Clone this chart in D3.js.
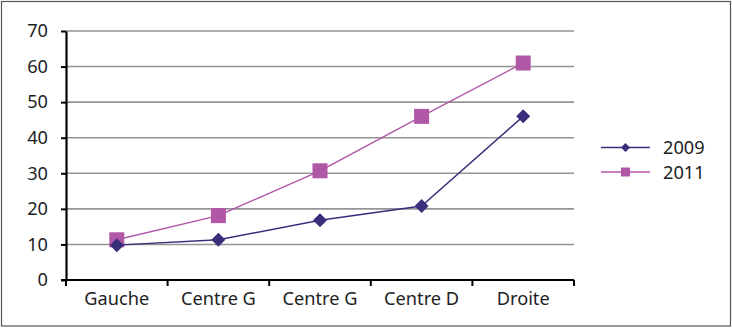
<!DOCTYPE html>
<html>
<head>
<meta charset="utf-8">
<script src="https://cdn.jsdelivr.net/npm/d3@7"></script>
<style>
  html, body { margin: 0; padding: 0; background: #fff; }
  svg { display: block; font-family: "Noto Sans", "Open Sans", sans-serif; }
</style>
</head>
<body>
<svg id="chart" width="732" height="328"></svg>
<script>
// Political position categories and the two survey years
const categories = ["Gauche", "Centre G", "Centre G", "Centre D", "Droite"];
const values2009 = [9.8, 11.3, 16.8, 20.8, 46.0];
const values2011 = [11.3, 18.1, 30.7, 46.0, 61.0];
const yTicks = [0, 10, 20, 30, 40, 50, 60, 70];
const seriesNames = ["2009", "2011"];

const svg = d3.select("#chart");
const W = 732, H = 328;
const m = { left: 66, right: 158, top: 31, bottom: 48 };
const FS = 18.2;

// outer frame
svg.append("rect")
  .attr("x", 1.5).attr("y", 1.5)
  .attr("width", W - 3).attr("height", H - 3.5)
  .attr("fill", "#fff").attr("stroke", "#555").attr("stroke-width", 1.2);

const x = d3.scaleBand()
  .domain(categories.map((c, i) => i))
  .range([m.left, W - m.right])
  .paddingInner(0).paddingOuter(0);

const y = d3.scaleLinear().domain([0, 70]).range([H - m.bottom, m.top]);

// horizontal gridlines
svg.append("g")
  .selectAll("line")
  .data(yTicks.filter(t => t > 0))
  .join("line")
  .attr("x1", m.left).attr("x2", W - m.right)
  .attr("y1", d => y(d)).attr("y2", d => y(d))
  .attr("stroke", "#959595").attr("stroke-width", 1.6);

// y axis
const yAxis = svg.append("g")
  .attr("transform", `translate(${m.left},0)`)
  .call(d3.axisLeft(y).tickValues(yTicks).tickSize(5).tickPadding(13).tickSizeOuter(0));
yAxis.select(".domain").attr("stroke", "#000").attr("stroke-width", 2.2);
yAxis.selectAll(".tick line").attr("stroke", "#000").attr("stroke-width", 2);
yAxis.selectAll(".tick text")
  .attr("font-size", FS).attr("fill", "#1e1e1e").attr("font-family", "Noto Sans, sans-serif");

// x axis with ticks at category boundaries
const xAxisG = svg.append("g").attr("transform", `translate(0,${y(0)})`);
xAxisG.append("line")
  .attr("x1", m.left - 5).attr("x2", W - m.right)
  .attr("stroke", "#000").attr("stroke-width", 2.2);
const bounds = d3.range(categories.length + 1).map(i =>
  i < categories.length ? x(i) : x(categories.length - 1) + x.bandwidth());
xAxisG.selectAll(".tk").data(bounds).join("line")
  .attr("class", "tk")
  .attr("x1", d => d).attr("x2", d => d)
  .attr("y1", 0).attr("y2", 6)
  .attr("stroke", "#000").attr("stroke-width", 2);
xAxisG.selectAll(".lbl").data(categories).join("text")
  .attr("class", "lbl")
  .attr("x", (d, i) => x(i) + x.bandwidth() / 2)
  .attr("y", 25)
  .attr("text-anchor", "middle")
  .attr("font-size", FS).attr("fill", "#1e1e1e")
  .text(d => d);

const cx = i => x(i) + x.bandwidth() / 2;
const line = d3.line().x((d, i) => cx(i)).y(d => y(d));

const series = [
  { name: seriesNames[0], values: values2009, color: "#3a2e7b", shape: "diamond" },
  { name: seriesNames[1], values: values2011, color: "#b057a6", shape: "square" }
];

function marker(g, shape, color) {
  if (shape === "diamond") {
    g.append("path").attr("d", "M0,-7L7,0L0,7L-7,0Z").attr("fill", color);
  } else {
    g.append("rect").attr("x", -7.5).attr("y", -7.5).attr("width", 15).attr("height", 15).attr("fill", color);
  }
}

// draw 2011 first so 2009 diamonds sit on top where they overlap
[series[1], series[0]].forEach(s => {
  svg.append("path")
    .datum(s.values)
    .attr("d", line)
    .attr("fill", "none")
    .attr("stroke", s.color).attr("stroke-width", 1.4);
  s.values.forEach((v, i) => {
    const g = svg.append("g").attr("transform", `translate(${cx(i)},${y(v)})`);
    marker(g, s.shape, s.color);
  });
});

// legend
const legend = svg.append("g");
series.forEach((s, i) => {
  const ly = 147.5 + i * 24.5;
  legend.append("line")
    .attr("x1", 601).attr("x2", 650).attr("y1", ly).attr("y2", ly)
    .attr("stroke", s.color).attr("stroke-width", 1.6);
  const g = legend.append("g").attr("transform", `translate(625.5,${ly})`);
  if (s.shape === "diamond") {
    g.append("path").attr("d", "M0,-4.5L4.5,0L0,4.5L-4.5,0Z").attr("fill", s.color);
  } else {
    g.append("rect").attr("x", -4.5).attr("y", -4.5).attr("width", 9).attr("height", 9).attr("fill", s.color);
  }
  legend.append("text")
    .attr("x", 663).attr("y", ly)
    .attr("dy", "0.36em")
    .attr("font-size", FS).attr("fill", "#1e1e1e")
    .text(s.name);
});
</script>
</body>
</html>
